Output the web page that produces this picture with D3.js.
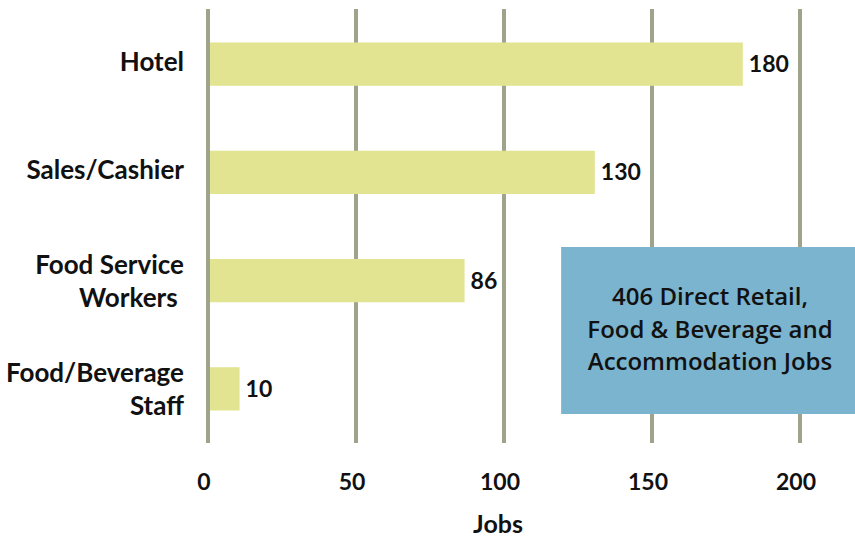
<!DOCTYPE html>
<html>
<head>
<meta charset="utf-8">
<script src="https://cdn.jsdelivr.net/npm/d3@7"></script>
<style>
  body { margin: 0; background: #fff; }
  text { font-family: Lato, "Open Sans", sans-serif; fill: #111; }
</style>
</head>
<body>
<div id="chart"></div>
<script>
// data
const categories = [["Hotel"], ["Sales/Cashier"], ["Food Service", "Workers "], ["Food/Beverage", "Staff"]];
const jobs = [180, 130, 86, 10];
const ticks = [0, 50, 100, 150, 200];
const note = ["406 Direct Retail,", "Food & Beverage and", "Accommodation Jobs"];

const width = 855, height = 544;

const svg = d3.select("#chart")
  .append("svg")
  .attr("width", width)
  .attr("height", height);

// x scale: 0 -> 208px, 200 -> 800px
const x = d3.scaleLinear()
  .domain([0, 200])
  .range([208, 800]);

// y band per category
const y = d3.scaleBand()
  .domain(d3.range(categories.length))
  .range([10, 443])
  .paddingInner(0.6)
  .paddingOuter(0.3);

// vertical grid lines
svg.append("g")
  .selectAll("line")
  .data(ticks)
  .join("line")
    .attr("x1", d => x(d))
    .attr("x2", d => x(d))
    .attr("y1", 9)
    .attr("y2", 443)
    .attr("stroke", "#9ea48a")
    .attr("stroke-width", 4);

// bars
svg.append("g")
  .selectAll("rect")
  .data(jobs)
  .join("rect")
    .attr("x", x(0) + 2)
    .attr("y", (d, i) => y(i))
    .attr("width", d => x(d) - x(0))
    .attr("height", y.bandwidth())
    .attr("fill", "#e3e491");

// value labels
svg.append("g")
  .selectAll("text")
  .data(jobs)
  .join("text")
    .attr("x", d => x(d) + 2 + 6)
    .attr("y", (d, i) => y(i) + y.bandwidth() / 2 + 8)
    .style("font-size", "23px")
    .style("font-weight", "bold")
    .text(d => d);

// category labels (may wrap to two lines)
const cat = svg.append("g")
  .selectAll("text")
  .data(categories)
  .join("text")
    .attr("text-anchor", "end")
    .style("font-size", "26px")
    .style("font-weight", "bold")
    .style("white-space", "pre");

cat.each(function(lines, i) {
  const cy = y(i) + y.bandwidth() / 2;
  const off = lines.length > 1 ? 3 : 0;
  d3.select(this).selectAll("tspan")
    .data(lines)
    .join("tspan")
      .attr("x", 184)
      .attr("y", (d, k) => cy + 7 + off + (k - (lines.length - 1) / 2) * 33)
      .text(d => d);
});

// x tick labels
svg.append("g")
  .selectAll("text")
  .data(ticks)
  .join("text")
    .attr("x", d => x(d) - 4)
    .attr("y", 490)
    .attr("text-anchor", "middle")
    .style("font-size", "23px")
    .style("font-weight", "bold")
    .text(d => d);

// axis title
svg.append("text")
  .attr("x", x(100) - 6)
  .attr("y", 533)
  .attr("text-anchor", "middle")
  .style("font-size", "25px")
  .style("font-weight", "bold")
  .text("Jobs");

// annotation box
svg.append("rect")
  .attr("x", x(119.3))
  .attr("y", 247)
  .attr("width", width - x(119.3))
  .attr("height", 167)
  .attr("fill", "#7bb4cf");

svg.append("g")
  .selectAll("text")
  .data(note)
  .join("text")
    .attr("x", 710)
    .attr("y", (d, i) => 305 + i * 32.5)
    .attr("text-anchor", "middle")
    .style("font-family", "'Open Sans', sans-serif")
    .style("font-size", "24px")
    .style("font-weight", "600")
    .text(d => d);
</script>
</body>
</html>
